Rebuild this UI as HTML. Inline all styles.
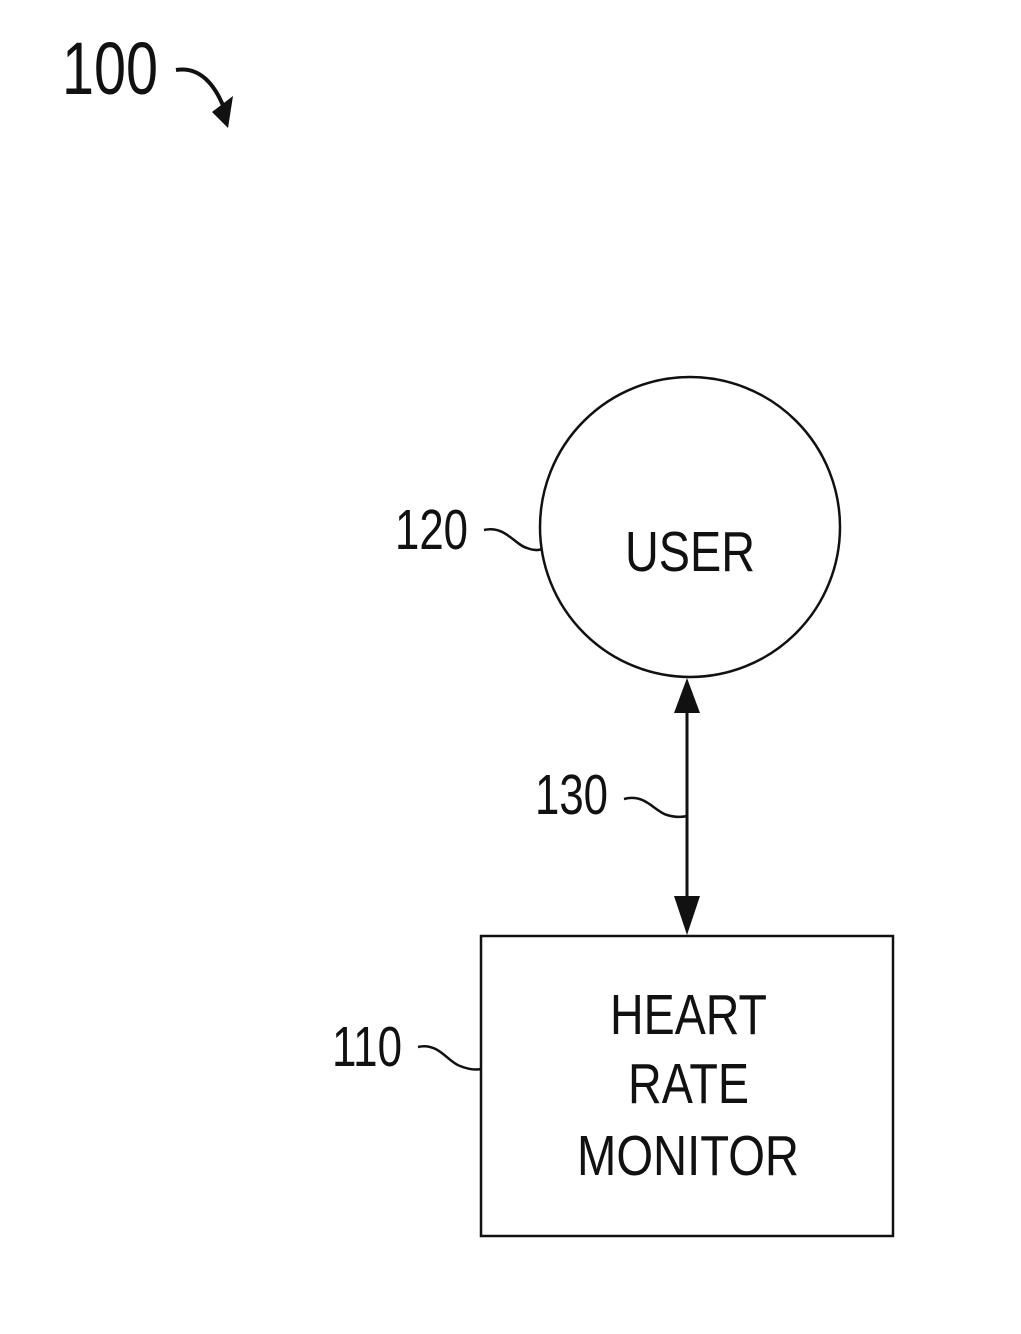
<!DOCTYPE html>
<html><head><meta charset="utf-8"><style>html,body{margin:0;padding:0;background:#fff}svg{display:block}</style></head>
<body>
<svg width="1021" height="1334" viewBox="0 0 1021 1334" xmlns="http://www.w3.org/2000/svg">
<g font-family="'Liberation Sans', sans-serif" fill="#111">
<text x="62" y="94" font-size="74" textLength="96" lengthAdjust="spacingAndGlyphs">100</text>
<text x="395" y="549" font-size="57" textLength="73" lengthAdjust="spacingAndGlyphs">120</text>
<text x="535" y="814" font-size="57" textLength="73" lengthAdjust="spacingAndGlyphs">130</text>
<text x="332" y="1066" font-size="57" textLength="70" lengthAdjust="spacingAndGlyphs">110</text>
<text x="625" y="571" font-size="57" textLength="130" lengthAdjust="spacingAndGlyphs">USER</text>
<text x="610" y="1034" font-size="57" textLength="157" lengthAdjust="spacingAndGlyphs">HEART</text>
<text x="628" y="1103" font-size="57" textLength="121" lengthAdjust="spacingAndGlyphs">RATE</text>
<text x="577" y="1175" font-size="57" textLength="222" lengthAdjust="spacingAndGlyphs">MONITOR</text>
</g>
<g fill="none" stroke="#111" stroke-width="2.5">
<path d="M176 70 C200 66 215 85 224 108" stroke-width="4"/>
<circle cx="690" cy="527" r="150"/>
<rect x="481" y="936" width="412" height="300"/>
<line x1="687" y1="700" x2="687" y2="910" stroke-width="3"/>
<path d="M484 530 C505 525 515 545 527 548 C535 551 540 550 542 549"/>
<path d="M624 799 C645 793 655 812 667 815 C677 818 683 817 687 816"/>
<path d="M418 1047 C438 1042 448 1062 460 1066 C470 1070 476 1070 481 1069"/>
</g>
<g fill="#111">
<polygon points="233,96 228,128 212,112"/>
<polygon points="687,678 674,713 700,713"/>
<polygon points="687,935 674,896 700,896"/>
</g>
</svg>
</body></html>
